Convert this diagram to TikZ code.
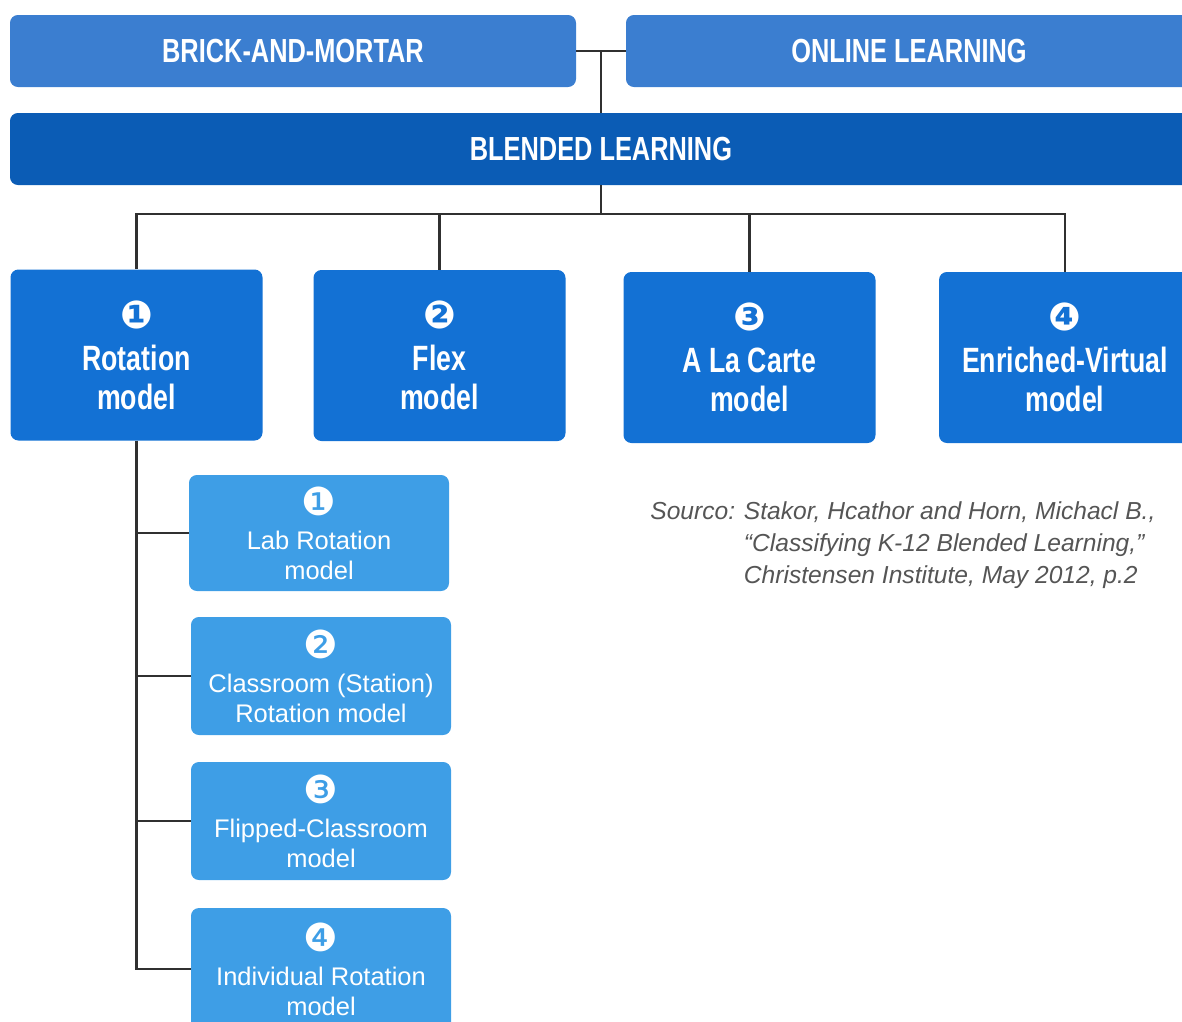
\documentclass[tikz,border=0pt]{standalone}
\usepackage{fontspec}
\setmainfont{Liberation Sans}
\newfontfamily\condfont[FakeStretch=0.76]{Liberation Sans}
\newfontfamily\symfont{DejaVu Sans}
\definecolor{topc}{HTML}{3B7ED0}
\definecolor{blendc}{HTML}{0B5CB5}
\definecolor{modelc}{HTML}{1371D4}
\definecolor{subc}{HTML}{3E9EE6}
\definecolor{linec}{HTML}{303030}
\definecolor{srcc}{HTML}{555555}
\begin{document}
\begin{tikzpicture}[x=0.02cm,y=-0.02cm,
  boxbase/.style={rectangle,rounded corners=4.5pt,inner sep=0pt,text=white,align=center},
  topbox/.style={boxbase,fill=topc,minimum height=72*0.02cm,font=\condfont\bfseries\fontsize{19}{22}\selectfont},
  blendbox/.style={boxbase,fill=blendc,minimum height=72*0.02cm,font=\condfont\bfseries\fontsize{19}{22}\selectfont},
  modelbox/.style={boxbase,fill=modelc,minimum width=252*0.02cm,minimum height=171*0.02cm,font=\condfont\bfseries\fontsize{20}{22}\selectfont},
  subbox/.style={boxbase,fill=subc,minimum width=260*0.02cm,font=\fontsize{14.5}{17}\selectfont},
  conn/.style={draw=linec,line width=1.4pt}]
\useasboundingbox (0,0) rectangle (1182,1021);
\clip (0,0) rectangle (1182,1021);
\newcommand{\bignum}[1]{{\symfont\fontsize{22}{22}\selectfont #1}}
\newcommand{\smallnum}[1]{{\symfont\fontsize{22}{22}\selectfont #1}}

% top row
\node[topbox,minimum width=566*0.02cm] (bm) at (293,51) {BRICK-AND-MORTAR};
\node[topbox,minimum width=566*0.02cm] (ol) at (909,51) {ONLINE LEARNING};
\node[blendbox,minimum width=1182*0.02cm] (bl) at (601,149) {BLENDED LEARNING};

% models
\node[modelbox] (rot) at (136.5,355) {\bignum{❶}\\[2pt]Rotation\\model};
\node[modelbox] (flex) at (439.5,355.5) {\bignum{❷}\\[2pt]Flex\\model};
\node[modelbox] (alc) at (749.5,357.5) {\bignum{❸}\\[2pt]A La Carte\\model};
\node[modelbox] (ev) at (1065,357.5) {\bignum{❹}\\[2pt]Enriched-Virtual\\model};

% sub models
\node[subbox,minimum height=116*0.02cm] (lab) at (319,533) {\smallnum{❶}\\[2.5pt]Lab Rotation\\model};
\node[subbox,minimum height=118*0.02cm] (cls) at (321,676) {\smallnum{❷}\\[2.5pt]Classroom (Station)\\Rotation model};
\node[subbox,minimum height=118*0.02cm] (flip) at (321,821) {\smallnum{❸}\\[2.5pt]Flipped-Classroom\\model};
\node[subbox,minimum height=122*0.02cm] (ind) at (321,969) {\smallnum{❹}\\[2.5pt]Individual Rotation\\model};

% connectors
\coordinate (j1) at (601,51);
\coordinate (j2) at (601,214);
\draw[conn] (bm.east) -- (ol.west);
\draw[conn] (j1) -- (bl.north);
\draw[conn] (bl.south) -- (j2);
\draw[conn] (rot.north) |- (j2);
\draw[conn] (flex.north) |- (j2);
\draw[conn] (alc.north) |- (j2);
\draw[conn] (ev.north) |- (j2);
\draw[conn] (rot.south) |- (lab.west);
\draw[conn] (rot.south) |- (cls.west);
\draw[conn] (rot.south) |- (flip.west);
\draw[conn] (rot.south) |- (ind.west);

% source
\node[anchor=north west,inner sep=0pt,text=srcc,font=\itshape\fontsize{14}{18.2}\selectfont] (src) at (650,497)
 {\begin{tabular}{@{}l@{\hspace{5pt}}l@{}}
 Sourco: & Stakor, Hcathor and Horn, Michacl B.,\\
  & “Classifying K-12 Blended Learning,”\\
  & Christensen Institute, May 2012, p.2
 \end{tabular}};
\end{tikzpicture}
\end{document}
